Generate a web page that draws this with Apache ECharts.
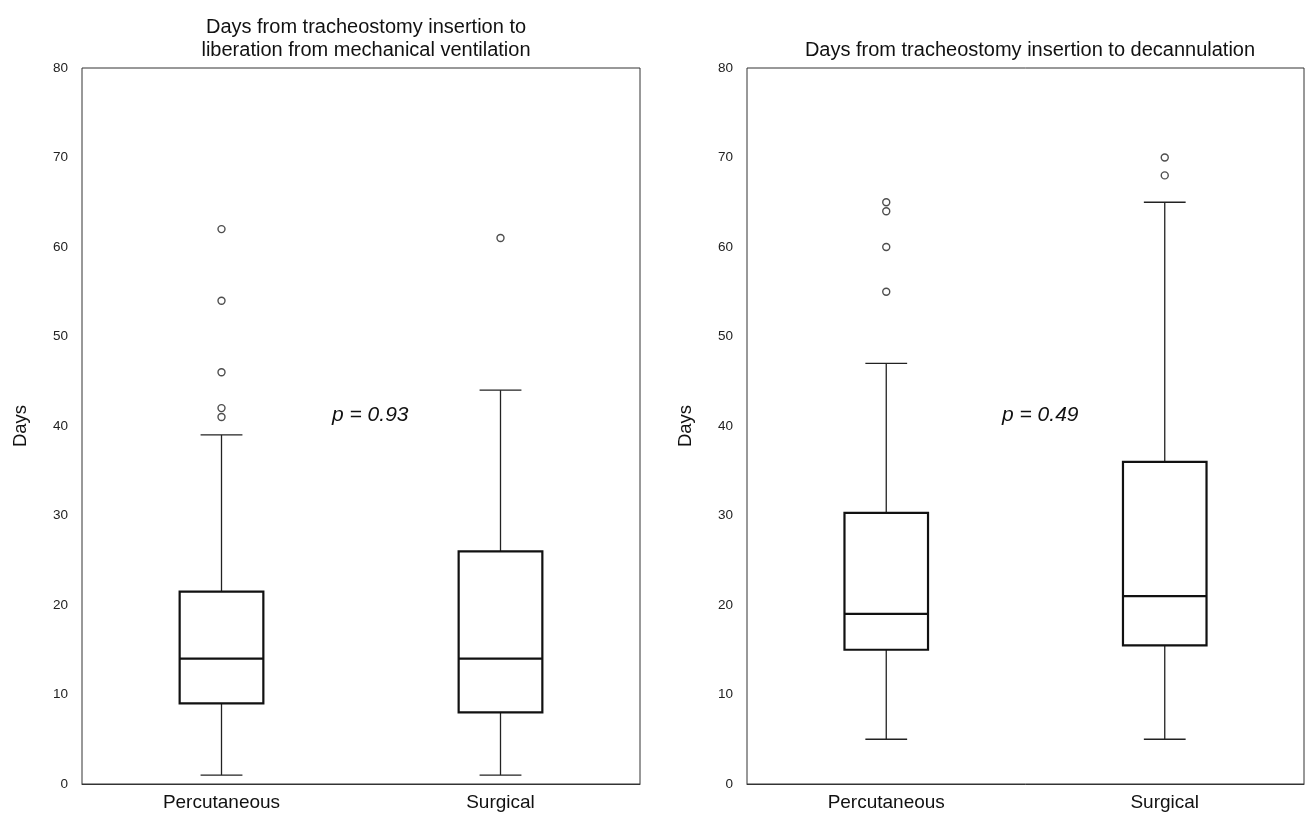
<!DOCTYPE html>
<html><head><meta charset="utf-8">
<script src="https://cdn.jsdelivr.net/npm/echarts@6/dist/echarts.min.js"></script>
<style>html,body{margin:0;padding:0;background:#fff}#c{width:1309px;height:816px}</style>
</head><body><div id="c"></div>
<script>
const categories = ['Percutaneous', 'Surgical'];
const titles = ['Days from tracheostomy insertion to\nliberation from mechanical ventilation', 'Days from tracheostomy insertion to decannulation'];
const pValues = ['p = 0.93', 'p = 0.49'];
// [low whisker, Q1, median, Q3, high whisker]
const ventBoxes = [[1, 9, 14, 21.5, 39], [1, 8, 14, 26, 44]];
const ventOutliers = [[0, 62], [0, 54], [0, 46], [0, 42], [0, 41], [1, 61]];
const decanBoxes = [[5, 15, 19, 30.3, 47], [5, 15.5, 21, 36, 65]];
const decanOutliers = [[0, 65], [0, 64], [0, 60], [0, 55], [1, 70], [1, 68]];
const yTicks = { min: 0, max: 80, interval: 10 };

const font = 'Liberation Sans, Arial, sans-serif';
const chart = echarts.init(document.getElementById('c'), null, { renderer: 'canvas' });

function renderBox(params, api) {
  const x = api.value(0);
  const low = api.coord([x, api.value(1)]);
  const q1 = api.coord([x, api.value(2)]);
  const med = api.coord([x, api.value(3)]);
  const q3 = api.coord([x, api.value(4)]);
  const high = api.coord([x, api.value(5)]);
  const band = api.size([1, 0])[0];
  const bw = band * 0.30, cw = band * 0.15;
  const cx = low[0];
  const wStyle = { stroke: '#222', lineWidth: 1.3 };
  const bStyle = { stroke: '#111', lineWidth: 2.2, fill: '#fff' };
  return {
    type: 'group', children: [
      { type: 'line', shape: { x1: cx, y1: q1[1], x2: cx, y2: low[1] }, style: wStyle },
      { type: 'line', shape: { x1: cx, y1: q3[1], x2: cx, y2: high[1] }, style: wStyle },
      { type: 'line', shape: { x1: cx - cw / 2, y1: low[1], x2: cx + cw / 2, y2: low[1] }, style: wStyle },
      { type: 'line', shape: { x1: cx - cw / 2, y1: high[1], x2: cx + cw / 2, y2: high[1] }, style: wStyle },
      { type: 'rect', shape: { x: cx - bw / 2, y: q3[1], width: bw, height: q1[1] - q3[1] }, style: bStyle },
      { type: 'line', shape: { x1: cx - bw / 2, y1: med[1], x2: cx + bw / 2, y2: med[1] }, style: { stroke: '#111', lineWidth: 2.2 } }
    ]
  };
}

function boxData(arr) { return arr.map((b, i) => [i].concat(b)); }

const grids = [
  { left: 82, right: 669, top: 68, bottom: 32, show: true, borderColor: '#333', borderWidth: 1, backgroundColor: '#fff' },
  { left: 747, right: 5, top: 68, bottom: 32, show: true, borderColor: '#333', borderWidth: 1, backgroundColor: '#fff' }
];
const xAxes = grids.map((g, i) => ({
  type: 'category', gridIndex: i, data: categories, boundaryGap: true,
  axisLine: { show: true, lineStyle: { color: '#333', width: 1 } },
  axisTick: { show: false }, splitLine: { show: false },
  axisLabel: { color: '#111', fontSize: 19, fontFamily: font, margin: 9 }
}));
const yAxes = grids.map((g, i) => ({
  type: 'value', gridIndex: i, min: yTicks.min, max: yTicks.max, interval: yTicks.interval,
  name: 'Days', nameLocation: 'middle', nameGap: 52, nameRotate: 90,
  nameTextStyle: { color: '#111', fontSize: 18.5, fontFamily: font },
  axisLine: { show: false }, axisTick: { show: false }, splitLine: { show: false },
  axisLabel: { color: '#222', fontSize: 13.5, fontFamily: font, margin: 14 }
}));

const outlierStyle = { color: '#fff', borderColor: '#222', borderWidth: 1.4 };

chart.setOption({
  animation: false,
  backgroundColor: '#fff',
  title: [
    { text: titles[0], left: 361, top: 11, textAlign: 'center', textStyle: { fontSize: 20, fontWeight: 'normal', color: '#111', fontFamily: font, lineHeight: 23 } },
    { text: titles[1], left: 1025, top: 34, textAlign: 'center', textStyle: { fontSize: 20, fontWeight: 'normal', color: '#111', fontFamily: font, lineHeight: 23 } }
  ],
  grid: grids, xAxis: xAxes, yAxis: yAxes,
  series: [
    { type: 'custom', xAxisIndex: 0, yAxisIndex: 0, renderItem: renderBox, data: boxData(ventBoxes), encode: { x: 0, y: [1, 2, 3, 4, 5] } },
    { type: 'scatter', xAxisIndex: 0, yAxisIndex: 0, symbol: 'circle', symbolSize: 7, itemStyle: outlierStyle, data: ventOutliers },
    { type: 'custom', xAxisIndex: 1, yAxisIndex: 1, renderItem: renderBox, data: boxData(decanBoxes), encode: { x: 0, y: [1, 2, 3, 4, 5] } },
    { type: 'scatter', xAxisIndex: 1, yAxisIndex: 1, symbol: 'circle', symbolSize: 7, itemStyle: outlierStyle, data: decanOutliers }
  ],
  graphic: [
    { type: 'text', left: 332, top: 405, style: { text: pValues[0], fontSize: 21, fontStyle: 'italic', fill: '#111', fontFamily: font } },
    { type: 'text', left: 1002, top: 405, style: { text: pValues[1], fontSize: 21, fontStyle: 'italic', fill: '#111', fontFamily: font } }
  ]
});
</script></body></html>
